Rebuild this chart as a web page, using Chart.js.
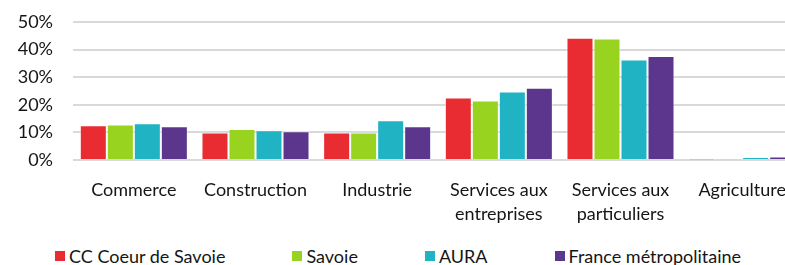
<!DOCTYPE html>
<html lang="fr">
<head>
    <meta charset="UTF-8">
    <title>Répartition des établissements par secteur</title>
    <script src="https://cdn.jsdelivr.net/npm/chart.js"></script>
    <style>
        body {
            margin: 0;
            width: 785px;
            height: 265px;
            overflow: hidden;
            background: #fff;
            position: relative;
            font-family: Lato, Arial, sans-serif;
        }

        #secteurs {
            position: absolute;
            left: 0;
            top: 0;
        }

        /* légende faite à la main, plus proche d'Excel */
        #legende {
            position: absolute;
            left: 55px;
            top: 246px;
            display: flex;
            gap: 67px;
            font-size: 18px;
            line-height: 20px;
            color: #151515;
            white-space: nowrap;
        }

        #legende span {
            display: flex;
            align-items: center;
        }

        #legende i {
            display: inline-block;
            width: 10px;
            height: 10px;
            margin-right: 4px;
        }
    </style>
</head>
<body>
    <canvas id="secteurs" width="810" height="240"></canvas>
    <div id="legende"></div>

    <script>
        // Secteurs d'activité
        const categories = [
            'Commerce',
            'Construction',
            'Industrie',
            ['Services aux', 'entreprises'],
            ['Services aux', 'particuliers'],
            'Agriculture'
        ];

        // Part des établissements (%)
        const ccCoeurDeSavoie = [12.6, 10.0, 10.0, 22.6, 44.3, 0.1];
        const savoie = [12.9, 11.2, 10.0, 21.6, 44.0, 0.1];
        const aura = [13.3, 10.8, 14.4, 24.8, 36.4, 1.0];
        const franceMetro = [12.2, 10.4, 12.2, 26.2, 37.7, 1.3];

        const seriesNames = ['CC Coeur de Savoie', 'Savoie', 'AURA', 'France métropolitaine'];
        const seriesColors = ['#e92c31', '#98d320', '#1fb3c4', '#5c368c'];

        const yTicks = [0, 10, 20, 30, 40, 50];

        const fontBase = { family: 'Lato', size: 18 };

        const datasets = [ccCoeurDeSavoie, savoie, aura, franceMetro].map((values, i) => ({
            label: seriesNames[i],
            data: values,
            backgroundColor: seriesColors[i],
            borderColor: 'rgba(255, 255, 255, 0.55)',
            borderWidth: 1,
            borderSkipped: 'start',
            barPercentage: 1,
            categoryPercentage: 0.888
        }));

        const ctx = document.getElementById('secteurs').getContext('2d');
        const chart = new Chart(ctx, {
            type: 'bar',
            data: {
                labels: categories,
                datasets: datasets
            },
            options: {
                responsive: false,
                animation: false,
                devicePixelRatio: 1,
                layout: {
                    autoPadding: false,
                    padding: { top: 22, right: 7, bottom: 0, left: 0 }
                },
                plugins: {
                    legend: { display: false },
                    tooltip: { enabled: false }
                },
                scales: {
                    x: {
                        grid: { display: false },
                        border: { display: false },
                        ticks: {
                            color: '#151515',
                            font: { ...fontBase, lineHeight: 1.333 },
                            padding: 10,
                            maxRotation: 0,
                            autoSkip: false
                        },
                        afterFit: (scale) => { scale.height = 80; }
                    },
                    y: {
                        min: 0,
                        max: 50,
                        afterBuildTicks: (scale) => {
                            scale.ticks = yTicks.map(v => ({ value: v }));
                        },
                        grid: {
                            color: '#d9d9d9',
                            lineWidth: 2,
                            drawTicks: false
                        },
                        border: { display: false },
                        ticks: {
                            color: '#151515',
                            font: fontBase,
                            padding: 20,
                            callback: (v) => v + '%'
                        },
                        afterFit: (scale) => {
                            // largeur fixe, sans la marge auto des étiquettes
                            scale.width = 73;
                            scale.paddingTop = 0;
                            scale.paddingBottom = 0;
                        }
                    }
                }
            }
        });

        // Légende
        const legende = document.getElementById('legende');
        seriesNames.forEach((name, i) => {
            const item = document.createElement('span');
            const box = document.createElement('i');
            box.style.background = seriesColors[i];
            item.appendChild(box);
            item.appendChild(document.createTextNode(name));
            legende.appendChild(item);
        });
    </script>
</body>
</html>
